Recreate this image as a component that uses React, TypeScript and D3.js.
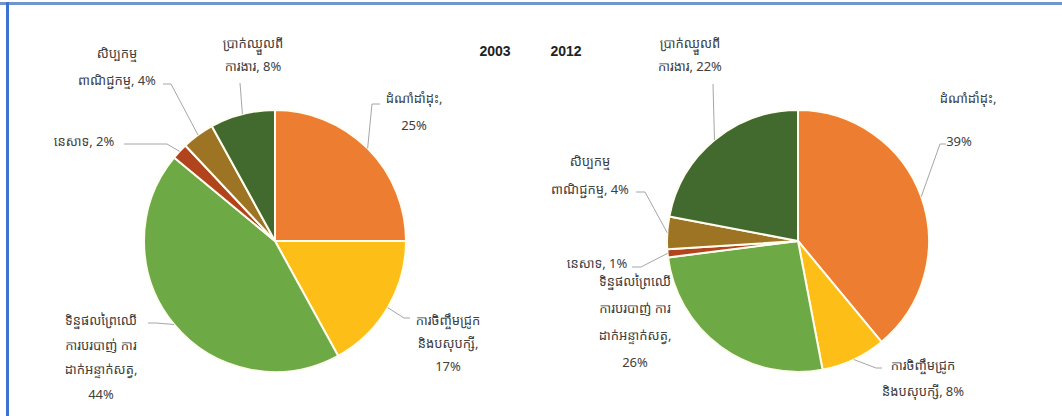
import React from "react";
import * as d3 from "d3";

// ---- data ----
const years = ["2003", "2012"];
const categories = [
  "ដំណាំដាំដុះ",
  "ការចិញ្ចឹមជ្រូក និងបសុបក្សី",
  "ទិន្នផលព្រៃឈើ ការបរបាញ់ ការដាក់អន្ទាក់សត្វ",
  "នេសាទ",
  "សិប្បកម្ម ពាណិជ្ជកម្ម",
  "ប្រាក់ឈ្នួលពីការងារ",
];
const values2003 = [25, 17, 44, 2, 4, 8];
const values2012 = [39, 8, 26, 1, 4, 22];
const colors = ["#ED7D31", "#FDBE17", "#6DAA45", "#B2441D", "#9C7424", "#426A2E"];

// label line breaks (text) per pie; "%" is replaced with the value
const labelLines2003 = [
  ["ដំណាំដាំដុះ,", "%"],
  ["ការចិញ្ចឹមជ្រូក", "និងបសុបក្សី,", "%"],
  ["ទិន្នផលព្រៃឈើ", "ការបរបាញ់ ការ", "ដាក់អន្ទាក់សត្វ,", "%"],
  ["នេសាទ, %"],
  ["សិប្បកម្ម", "ពាណិជ្ជកម្ម, %"],
  ["ប្រាក់ឈ្នួលពី", "ការងារ, %"],
];
const labelLines2012 = [
  ["ដំណាំដាំដុះ,", "%"],
  ["ការចិញ្ចឹមជ្រូក", "និងបសុបក្សី, %"],
  ["ទិន្នផលព្រៃឈើ", "ការបរបាញ់ ការ", "ដាក់អន្ទាក់សត្វ,", "%"],
  ["នេសាទ, %"],
  ["សិប្បកម្ម", "ពាណិជ្ជកម្ម, %"],
  ["ប្រាក់ឈ្នួលពី", "ការងារ, %"],
];

// ---- layout ----
type LabelLayout = { xs: number[]; y: number; dy: number; anchor: string; leader: [number, number][] | null };
const layout2003: LabelLayout[] = [
  { xs: [414, 414], y: 100, dy: 27, anchor: "middle", leader: [[380, 104], [372, 104]] },
  { xs: [448, 448, 448], y: 322, dy: 23, anchor: "middle", leader: [[410, 318], [404, 318]] },
  { xs: [101, 101, 101, 101], y: 322, dy: 24.5, anchor: "middle", leader: [[148, 323], [156, 323]] },
  { xs: [84], y: 143, dy: 24, anchor: "middle", leader: [[124, 144], [167, 144]] },
  { xs: [117, 117], y: 55, dy: 27, anchor: "middle", leader: [[163, 84], [171, 84]] },
  { xs: [253, 253], y: 45, dy: 23, anchor: "middle", leader: [[240, 83]] },
];
const layout2012: LabelLayout[] = [
  { xs: [968, 959], y: 100, dy: 43, anchor: "middle", leader: [[946, 144], [940, 144]] },
  { xs: [923, 923], y: 367, dy: 26, anchor: "middle", leader: [[882, 368], [876, 368]] },
  { xs: [635, 635, 635, 635], y: 283, dy: 27, anchor: "middle", leader: null },
  { xs: [597], y: 265, dy: 24, anchor: "middle", leader: [[632, 267], [641, 267]] },
  { xs: [590, 590], y: 163, dy: 28, anchor: "middle", leader: [[636, 192], [645, 192]] },
  { xs: [690, 690], y: 45, dy: 23, anchor: "middle", leader: [[713, 84]] },
];

const pies = [
  { values: values2003, lines: labelLines2003, layout: layout2003, cx: 275, cy: 241 },
  { values: values2012, lines: labelLines2012, layout: layout2012, cx: 798, cy: 241 },
];
const R = 131;
const W = 1062;
const H = 416;
const FONT = "'Noto Sans Khmer', 'Khmer OS', 'Khmer OS System', 'Liberation Sans', Arial, sans-serif";

function Pie({ values, lines, layout, cx, cy }: any) {
  const pie = d3.pie<number>().sort(null).value((d) => d)(values);
  const arc = d3.arc<d3.PieArcDatum<number>>().innerRadius(0).outerRadius(R);
  return (
    <g>
      <g transform={`translate(${cx},${cy})`}>
        {pie.map((p, i) => (
          <path key={i} d={arc(p) || ""} fill={colors[i]} stroke="#FFFDF0" strokeWidth={2} strokeLinejoin="round" />
        ))}
      </g>
      {pie.map((p, i) => {
        const L: LabelLayout = layout[i];
        const mid = (p.startAngle + p.endAngle) / 2;
        const ex = cx + Math.sin(mid) * R;
        const ey = cy - Math.cos(mid) * R;
        const pts = L.leader ? [...L.leader, [ex, ey]] : null;
        return (
          <g key={i}>
            {pts && (
              <path d={d3.line()(pts as [number, number][]) || ""} fill="none" stroke="#A6A6A6" strokeWidth={1} />
            )}
            {lines[i].map((t: string, j: number) => (
              <text
                key={j}
                x={L.xs[j]}
                y={L.y + j * L.dy}
                textAnchor={L.anchor}
                dominantBaseline="middle"
                fontFamily={FONT}
                fontSize={13}
                fill="#404040"
              >
                {t.replace("%", `${values[i]}%`)}
              </text>
            ))}
          </g>
        );
      })}
    </g>
  );
}

export default function App() {
  return (
    <div style={{ position: "absolute", left: 0, top: 0 }}>
      <svg width={W} height={H} style={{ display: "block", background: "#fff" }}>
        <rect x={0} y={2} width={W} height={3} fill="#7094CE" />
        <rect x={6} y={2} width={3} height={H} fill="#3B73CF" />
        {pies.map((p, k) => (
          <Pie key={k} {...p} />
        ))}
        <text x={495} y={52} textAnchor="middle" dominantBaseline="middle" fontFamily="'Liberation Sans', Arial, sans-serif" fontWeight="bold" fontSize={14} fill="#222">
          {years[0]}
        </text>
        <text x={566} y={52} textAnchor="middle" dominantBaseline="middle" fontFamily="'Liberation Sans', Arial, sans-serif" fontWeight="bold" fontSize={14} fill="#222">
          {years[1]}
        </text>
      </svg>
    </div>
  );
}
